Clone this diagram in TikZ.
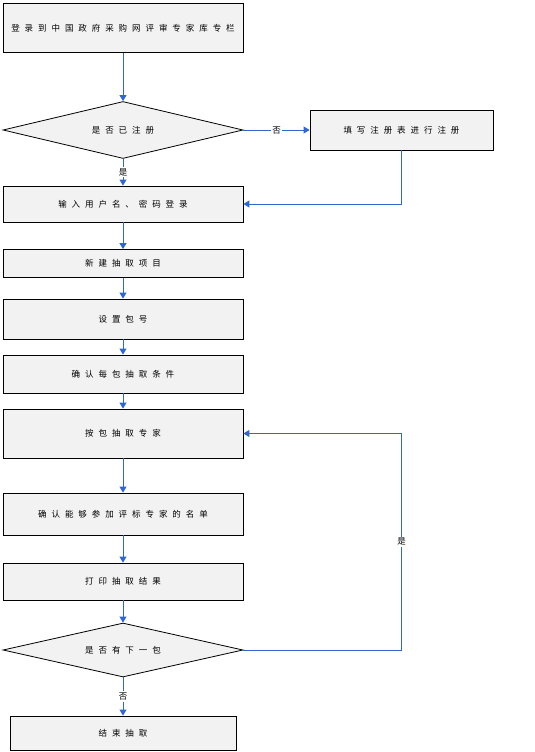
\documentclass[tikz,border=0pt]{standalone}
\usepackage{fontspec}
\usepackage{xcolor}
\newfontfamily\cjk[LetterSpace=58]{Noto Sans CJK SC}
\usetikzlibrary{arrows.meta, positioning, shapes.geometric}
\definecolor{fcBlue}{RGB}{51,102,204}
\definecolor{fcFill}{RGB}{242,242,242}

\begin{document}
\begin{tikzpicture}[
    x=1pt, y=-1pt, font=\cjk\fontsize{8.5}{10}\selectfont,
    every node/.style={text height=6.8pt, text depth=0.6pt},
    box/.style={draw=black, line width=0.8pt, fill=fcFill, minimum width=240pt,
                anchor=center, inner sep=0pt},
    decision/.style={diamond, aspect=4.3, draw=black, line width=0.8pt, fill=fcFill,
                     minimum width=240pt, inner sep=0pt},
    flow/.style={draw=fcBlue, line width=1pt, -{Triangle[length=6pt, width=7pt]}},
    tag/.style={fill=white, inner sep=1.5pt}
]
\useasboundingbox (0,0) rectangle (535,752);
% main column
\foreach \id/\ypos/\boxh/\txt in {b1/28/49/登录到中国政府采购网评审专家库专栏,
                                  b3/204/36/输入用户名、密码登录,
                                  b4/263.5/28/新建抽取项目,
                                  b5/319/40/设置包号,
                                  b6/374/38/确认每包抽取条件,
                                  b7/433.5/49/按包抽取专家,
                                  b8/514/42/确认能够参加评标专家的名单,
                                  b9/581.5/37/打印抽取结果} {
   \node[box, minimum height=\boxh pt] (\id) at (123, \ypos) {\txt};
}
\node[decision, minimum height=57pt] (d1) at (123, 130) {是否已注册};
\node[box, minimum width=183pt, minimum height=40pt] (reg) at (401.5, 130) {填写注册表进行注册};
\node[decision, minimum height=54pt] (d2) at (123, 650) {是否有下一包};
\node[box, minimum width=226pt, minimum height=34pt] (end) at (123, 733) {结束抽取};
% connectors
\draw[flow] (b1) -- (d1);
\draw[flow] (d1) -- node[tag] {否} (reg);
\draw[flow] (d1) -- node[tag] {是} (b3);
\draw[flow] (reg.south) |- (b3.east);
\foreach \a/\b in {b3/b4, b4/b5, b5/b6, b6/b7, b7/b8, b8/b9, b9/d2} {
   \draw[flow] (\a) -- (\b);
}
\draw[flow] (d2.east) -- (d2.east -| reg) -- node[tag] {是} (b7.east -| reg) -- (b7.east);
\draw[flow] (d2) -- node[tag] {否} (end);
\end{tikzpicture}
\end{document}
